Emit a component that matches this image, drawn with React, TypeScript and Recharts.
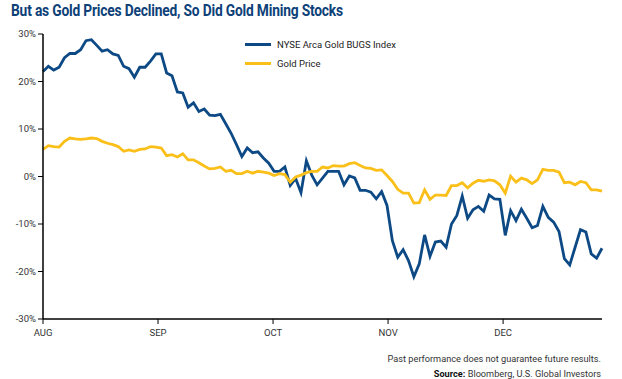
import { LineChart, Line, XAxis, YAxis } from 'recharts'

const monthLabels = ['AUG', 'SEP', 'OCT', 'NOV', 'DEC']
const monthTicks = [0, 21.4, 42.8, 64.2, 85.6]
const yTicks = [-30, -20, -10, 0, 10, 20, 30]

// NYSE Arca Gold BUGS Index, % change
const bugsIndex = [
  22.1, 23.2, 22.4, 23.0, 25.0, 25.9, 25.9, 26.7, 28.6, 28.8,
  27.6, 26.4, 26.7, 25.8, 25.5, 23.2, 22.7, 20.9, 23.0, 23.0,
  24.3, 25.8, 25.8, 21.8, 21.2, 17.8, 17.6, 14.6, 15.5, 13.7,
  14.2, 12.9, 12.8, 13.1, 11.1, 9.1, 6.7, 4.2, 6.0, 5.0,
  5.2, 3.9, 2.8, 1.1, 1.1, 2.0, -1.9, -0.4, -3.4, 3.3,
  0.3, -1.75, -0.35, 1.1, 1.1, 1.1, -1.75, 0.1, -0.3, -2.9,
  -2.9, -3.3, -4.7, -3.2, -6.1, -13.5, -17.0, -15.4, -17.7, -21.1,
  -18.4, -12.3, -16.8, -13.8, -13.6, -14.9, -10.0, -8.2, -4.1, -8.8,
  -7.0, -6.3, -7.3, -3.9, -4.7, -4.8, -12.4, -7.2, -9.3, -6.9,
  -8.8, -10.8, -10.3, -6.3, -8.6, -9.6, -11.6, -17.3, -18.6, -14.9,
  -11.2, -11.7, -16.3, -17.2, -15.1,
]

// Gold price, % change
const goldPrice = [
  5.7, 6.5, 6.3, 6.2, 7.4, 8.1, 7.9, 7.8, 7.9, 8.1,
  8.0, 7.4, 7.0, 6.7, 6.3, 5.3, 5.6, 5.3, 5.7, 5.8,
  6.3, 6.2, 6.0, 4.4, 4.6, 4.1, 4.8, 3.5, 3.5, 2.9,
  2.2, 1.6, 1.7, 2.0, 1.1, 1.3, 0.6, 0.6, 1.1, 0.7,
  1.1, 0.9, 0.7, 0.2, 0.6, 0.4, -1.2, -0.1, 0.3, 0.8,
  1.1, 1.1, 2.0, 1.8, 2.3, 2.2, 2.2, 2.7, 2.9, 2.3,
  1.8, 1.7, 1.3, 1.4, 0.2, -1.05, -2.7, -3.5, -3.5, -5.6,
  -5.5, -2.8, -4.8, -3.9, -3.9, -4.0, -1.9, -1.9, -1.3, -2.4,
  -1.4, -0.8, -1.0, -0.7, -0.9, -1.75, -3.5, 0.07, -1.2, -0.35,
  -0.7, -1.5, -0.7, 1.5, 1.3, 1.3, 0.9, -1.3, -1.2, -1.75,
  -1.05, -1.3, -2.8, -2.8, -3.1,
]

const seriesNames = ['NYSE Arca Gold BUGS Index', 'Gold Price']

const data = bugsIndex.map((v, i) => ({ day: i, bugs: v, gold: goldPrice[i] }))

const BLUE = '#0d4a85'
const GOLD = '#fbbf1a'
const FONT = 'Roboto, sans-serif'

const LegendBox = () => (
  <div
    style={{
      position: 'absolute',
      left: 245,
      top: 35,
      fontSize: 9.5,
      color: '#222',
    }}
  >
    {[
      { name: seriesNames[0], color: BLUE },
      { name: seriesNames[1], color: GOLD },
    ].map((item) => (
      <div key={item.name} style={{ display: 'flex', alignItems: 'center', height: 19 }}>
        <span style={{ width: 26, height: 3, background: item.color, marginRight: 6 }} />
        <span>{item.name}</span>
      </div>
    ))}
  </div>
)

const App = () => {
  return (
    <div
      style={{
        position: 'absolute',
        left: 0,
        top: 0,
        width: 622,
        height: 379,
        background: '#fff',
        fontFamily: FONT,
      }}
    >
      <div
        style={{
          position: 'absolute',
          left: 11,
          top: 1,
          fontSize: 16,
          fontWeight: 700,
          color: '#0d4178',
          whiteSpace: 'nowrap',
          transform: 'scaleX(0.86)',
          transformOrigin: 'left',
          letterSpacing: -0.2,
        }}
      >
        But as Gold Prices Declined, So Did Gold Mining Stocks
      </div>
      <LineChart
        width={622}
        height={379}
        data={data}
        margin={{ top: 34, right: 20, left: 8, bottom: 40 }}
      >
        <XAxis
          dataKey="day"
          type="number"
          domain={[0, 104]}
          ticks={monthTicks}
          tickFormatter={(v) => monthLabels[monthTicks.indexOf(v)] ?? ''}
          axisLine={{ stroke: '#000', strokeWidth: 1.5 }}
          tickLine={{ stroke: '#000', strokeWidth: 1 }}
          tickSize={5}
          tick={{ fill: '#333', fontSize: 9.5, fontFamily: FONT, dy: 3 }}
          height={20}
        />
        <YAxis
          domain={[-30, 30]}
          ticks={yTicks}
          tickFormatter={(v) => `${v}%`}
          axisLine={{ stroke: '#000', strokeWidth: 1.5 }}
          tickLine={{ stroke: '#000', strokeWidth: 1 }}
          tickSize={5}
          tick={{ fill: '#333', fontSize: 9.5, fontFamily: FONT }}
          width={35}
          interval={0}
        />
        <Line
          type="linear"
          dataKey="bugs"
          name={seriesNames[0]}
          stroke={BLUE}
          strokeWidth={2.8}
          dot={false}
          isAnimationActive={false}
        />
        <Line
          type="linear"
          dataKey="gold"
          name={seriesNames[1]}
          stroke={GOLD}
          strokeWidth={2.8}
          dot={false}
          isAnimationActive={false}
        />
      </LineChart>
      <LegendBox />
      <div
        style={{
          position: 'absolute',
          right: 21,
          top: 351,
          fontSize: 9.2,
          color: '#333',
          textAlign: 'right',
          lineHeight: '15px',
          whiteSpace: 'nowrap',
        }}
      >
        <div>Past performance does not guarantee future results.</div>
        <div>
          <b style={{ color: '#111' }}>Source:</b> Bloomberg, U.S. Global Investors
        </div>
      </div>
    </div>
  )
}

export default App
